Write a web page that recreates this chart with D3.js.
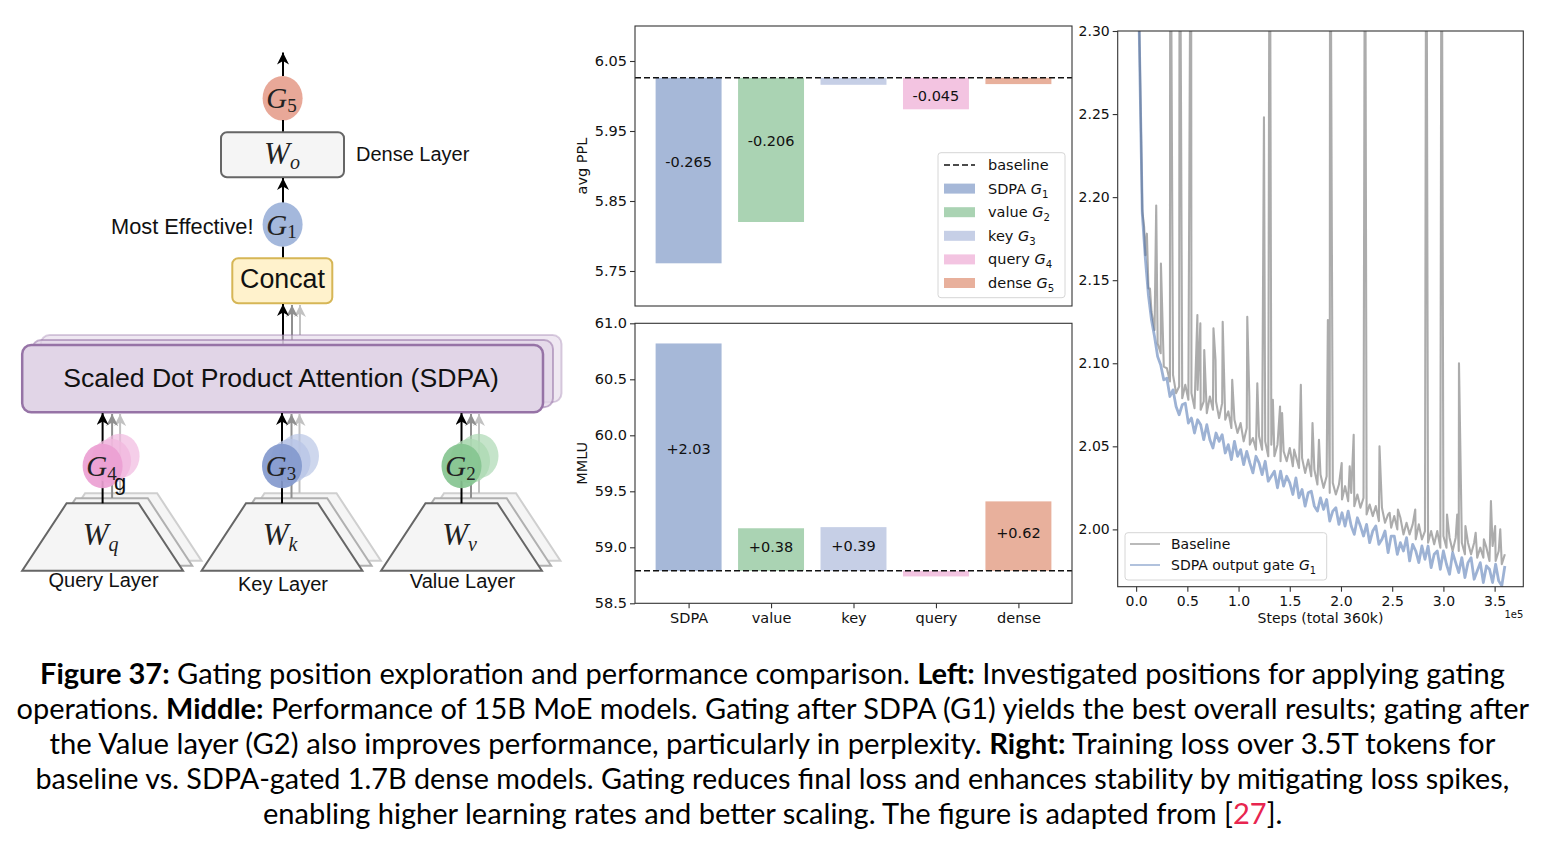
<!DOCTYPE html>
<html>
<head>
<meta charset="utf-8">
<script src="https://cdn.jsdelivr.net/npm/d3@7"></script>
<style>
  body { margin: 0; background: #fff; }
  svg { display: block; }
</style>
</head>
<body>
<svg id="fig" width="1546" height="849"></svg>
<script>
// ---- data ----
const categories = ['SDPA', 'value', 'key', 'query', 'dense'];
const gateIndex = ['1', '2', '3', '4', '5'];
const barColors = ['#a6b8d8', '#aad3b3', '#c6cfe6', '#f3c4e1', '#e8b09c'];

const pplBaseline = 6.026;
const pplDelta = [-0.265, -0.206, -0.010, -0.045, -0.009];
const pplLabels = ['-0.265', '-0.206', '', '-0.045', ''];
const pplTicks = [5.75, 5.85, 5.95, 6.05];

const mmluBaseline = 58.79;
const mmluDelta = [2.03, 0.38, 0.39, -0.05, 0.62];
const mmluLabels = ['+2.03', '+0.38', '+0.39', '', '+0.62'];
const mmluTicks = [58.5, 59.0, 59.5, 60.0, 60.5, 61.0];

const lossTicks = [2.00, 2.05, 2.10, 2.15, 2.20, 2.25, 2.30];
const stepTicks = [0, 50, 100, 150, 200, 250, 300, 350]; // thousands of steps

// training loss, [step (k), loss]
const baselineLoss = [
  [1,2.640],[3,2.305],[6,2.192],[9,2.165],[12,2.145],[15,2.131],[18,2.120],[21,2.112],[24,2.106],[27,2.098],
  [30,2.097],[33,2.089],[36,2.093],[39,2.082],[42,2.086],[45,2.079],[48,2.087],[51,2.078],[54,2.082],[57,2.073],
  [60,2.084],[63,2.072],[66,2.077],[69,2.070],[72,2.080],[75,2.072],[78,2.077],[81,2.067],[84,2.076],[87,2.066],
  [90,2.071],[93,2.061],[96,2.066],[99,2.058],[102,2.064],[105,2.053],[108,2.061],[111,2.051],[114,2.055],[117,2.048],
  [120,2.056],[123,2.048],[126,2.053],[129,2.044],[132,2.051],[135,2.044],[138,2.051],[141,2.041],[144,2.047],[147,2.041],
  [150,2.049],[153,2.038],[156,2.044],[159,2.037],[162,2.043],[165,2.034],[168,2.042],[171,2.032],[174,2.036],[177,2.027],
  [180,2.033],[183,2.025],[186,2.032],[189,2.022],[192,2.028],[195,2.021],[198,2.027],[201,2.018],[204,2.026],[207,2.017],
  [210,2.022],[213,2.014],[216,2.021],[219,2.013],[222,2.019],[225,2.009],[228,2.015],[231,2.008],[234,2.014],[237,2.005],
  [240,2.013],[243,2.004],[246,2.009],[249,2.001],[252,2.008],[255,2.000],[258,2.007],[261,1.997],[264,2.004],[267,1.997],
  [270,2.003],[273,1.994],[276,2.003],[279,1.994],[282,1.999],[285,1.992],[288,1.999],[291,1.991],[294,1.999],[297,1.989],
  [300,1.996],[303,1.989],[306,1.995],[309,1.987],[312,1.995],[315,1.987],[318,1.992],[321,1.985],[324,1.992],[327,1.985],
  [330,1.992],[333,1.983],[336,1.989],[339,1.983],[342,1.989],[345,1.981],[348,1.990],[351,1.981],[354,1.987],[357,1.979],
  [360,1.985]
];
// loss spikes of the baseline run, [step (k), peak]
const baselineSpikes = [
  [7.8,2.182],[10.5,2.178],[13.5,2.145],[19.6,2.195],[24.2,2.160],[33.3,2.45],[42.5,2.45],[44.8,2.108],
  [53.6,2.45],[59.8,2.129],[62.7,2.124],[66.5,2.108],[75.5,2.121],[77.5,2.102],[84.5,2.125],[93.8,2.090],
  [108.5,2.128],[110.5,2.080],[118.3,2.088],[124.8,2.248],[130.4,2.45],[133.5,2.078],[140.5,2.074],[142.5,2.070],
  [154.3,2.048],[160.8,2.087],[172.2,2.064],[178.5,2.054],[187.2,2.126],[189.4,2.45],[200.7,2.040],[208.5,2.038],
  [212.4,2.057],[223.5,2.45],[237.6,2.050],[247.5,2.010],[255.6,2.012],[272.5,2.012],[283.3,2.45],[298.2,2.45],
  [303.5,2.009],[313.5,2.009],[315.2,2.100],[321.5,2.002],[331.5,1.998],[339.5,1.994],[346.4,2.017],[350.5,2.002],
  [355.5,2.000]
];
const gatedLoss = [
  [1,2.620],[3,2.300],[6,2.190],[9,2.163],[12,2.141],[15,2.126],[18,2.116],[21,2.104],[24,2.099],[27,2.090],
  [30,2.091],[33,2.080],[36,2.084],[39,2.074],[42,2.069],[45,2.075],[48,2.076],[51,2.064],[54,2.067],[57,2.058],
  [60,2.066],[63,2.063],[66,2.054],[69,2.063],[72,2.054],[75,2.049],[78,2.058],[81,2.053],[84,2.057],[87,2.046],
  [90,2.051],[93,2.042],[96,2.053],[99,2.044],[102,2.048],[105,2.039],[108,2.047],[111,2.040],[114,2.034],[117,2.044],
  [120,2.040],[123,2.033],[126,2.041],[129,2.029],[132,2.032],[135,2.035],[138,2.025],[141,2.035],[144,2.026],[147,2.032],
  [150,2.028],[153,2.021],[156,2.031],[159,2.019],[162,2.024],[165,2.014],[168,2.022],[171,2.023],[174,2.014],[177,2.011],
  [180,2.019],[183,2.012],[186,2.018],[189,2.005],[192,2.011],[195,2.013],[198,2.003],[201,2.010],[204,2.002],[207,2.011],
  [210,2.002],[213,1.997],[216,2.007],[219,2.002],[222,1.996],[225,2.003],[228,1.992],[231,1.999],[234,2.002],[237,1.991],
  [240,1.994],[243,1.999],[246,1.986],[249,1.996],[252,1.996],[255,1.985],[258,1.992],[261,1.987],[264,1.995],[267,1.981],
  [270,1.991],[273,1.987],[276,1.980],[279,1.990],[282,1.982],[285,1.990],[288,1.977],[291,1.985],[294,1.987],[297,1.976],
  [300,1.987],[303,1.979],[306,1.973],[309,1.986],[312,1.980],[315,1.974],[318,1.983],[321,1.971],[324,1.980],[327,1.983],
  [330,1.970],[333,1.975],[336,1.980],[339,1.968],[342,1.978],[345,1.976],[348,1.968],[351,1.979],[354,1.969],[357,1.966],
  [360,1.978]
];

const captionLines = [
  [['Figure 37:', 'b'], [' Gating position exploration and performance comparison. ', ''], ['Left:', 'b'], [' Investigated positions for applying gating', '']],
  [['operations. ', ''], ['Middle:', 'b'], [' Performance of 15B MoE models. Gating after SDPA (G1) yields the best overall results; gating after', '']],
  [['the Value layer (G2) also improves performance, particularly in perplexity. ', ''], ['Right:', 'b'], [' Training loss over 3.5T tokens for', '']],
  [['baseline vs. SDPA-gated 1.7B dense models. Gating reduces final loss and enhances stability by mitigating loss spikes,', '']],
  [['enabling higher learning rates and better scaling. The figure is adapted from [', ''], ['27', 'r'], ['].', '']]
];

// ---- setup ----
const W = 1546, H = 849;
const svg = d3.select('#fig');
svg.append('rect').attr('width', W).attr('height', H).attr('fill', '#fff');
const defs = svg.append('defs');

const chartFont = 'DejaVu Sans, sans-serif';
const spine = '#333';

function styleAxis(g, size) {
  g.select('.domain').remove();
  g.selectAll('.tick line').attr('stroke', spine).attr('stroke-width', 1.1);
  g.selectAll('.tick text').attr('font-family', chartFont).attr('font-size', size).attr('fill', '#111');
}

function frame(g, x0, y0, x1, y1) {
  g.append('rect').attr('x', x0).attr('y', y0).attr('width', x1 - x0).attr('height', y1 - y0)
    .attr('fill', 'none').attr('stroke', spine).attr('stroke-width', 1.1);
}

function gateText(t, name, idx, size) {
  t.append('tspan').text(name + ' ');
  t.append('tspan').attr('font-style', 'italic').text('G');
  t.append('tspan').attr('font-size', size * 0.7).attr('dy', 4).text(idx);
}

// ---- middle: bar panels ----
const barLeft = 635, barRight = 1072;
const xBar = d3.scalePoint().domain(categories).range([barLeft, barRight]).padding(0.65);
const barW = xBar.step() * 0.8;

function barPanel(top, bottom, domain, ticks, base, deltas, labels, yTitle, showX) {
  const g = svg.append('g');
  const y = d3.scaleLinear().domain(domain).range([bottom, top]);

  g.selectAll('rect.bar').data(categories).join('rect')
    .attr('class', 'bar')
    .attr('x', d => xBar(d) - barW / 2)
    .attr('y', (d, i) => Math.min(y(base), y(base + deltas[i])))
    .attr('width', barW)
    .attr('height', (d, i) => Math.abs(y(base) - y(base + deltas[i])))
    .attr('fill', (d, i) => barColors[i]);

  g.append('line')
    .attr('x1', barLeft).attr('x2', barRight)
    .attr('y1', y(base)).attr('y2', y(base))
    .attr('stroke', '#111').attr('stroke-width', 1.6).attr('stroke-dasharray', '6,3');

  g.selectAll('text.val').data(categories).join('text')
    .attr('class', 'val')
    .attr('x', d => xBar(d))
    .attr('y', (d, i) => {
      const y0 = y(base), y1 = y(base + deltas[i]);
      const h = Math.abs(y1 - y0);
      const off = h > 100 ? -8.5 : (deltas[i] < 0 ? 2 : -3);
      return (y0 + y1) / 2 + off + 5;
    })
    .attr('text-anchor', 'middle')
    .attr('font-family', chartFont).attr('font-size', 14.5).attr('fill', '#111')
    .text((d, i) => labels[i]);

  const ya = g.append('g').attr('transform', `translate(${barLeft},0)`)
    .call(d3.axisLeft(y).tickValues(ticks).tickFormat(d3.format(ticks[0] > 10 ? '.1f' : '.2f'))
      .tickSize(5).tickPadding(3).tickSizeOuter(0));
  styleAxis(ya, 14.5);

  if (showX) {
    const xa = g.append('g').attr('transform', `translate(0,${bottom})`)
      .call(d3.axisBottom(xBar).tickSize(5).tickPadding(4.4).tickSizeOuter(0));
    styleAxis(xa, 14.5);
  }

  g.append('text')
    .attr('transform', `translate(586.5,${(top + bottom) / 2}) rotate(-90)`)
    .attr('text-anchor', 'middle')
    .attr('font-family', chartFont).attr('font-size', 14.5).attr('fill', '#111')
    .text(yTitle);

  frame(g, barLeft, top, barRight, bottom);
  return g;
}

const topPanel = barPanel(26, 306, [5.70, 6.10], pplTicks, pplBaseline, pplDelta, pplLabels, 'avg PPL', false);
barPanel(323.3, 603.3, [58.5, 61.0], mmluTicks, mmluBaseline, mmluDelta, mmluLabels, 'MMLU', true);

// legend of the top panel
{
  const lg = topPanel.append('g');
  lg.append('rect').attr('x', 938).attr('y', 152.7).attr('width', 127).attr('height', 145)
    .attr('rx', 3).attr('fill', '#fff').attr('fill-opacity', 0.85).attr('stroke', '#d6d6d6');
  const rowY = i => 165 + i * 23.6;
  lg.append('line').attr('x1', 944).attr('x2', 975).attr('y1', rowY(0)).attr('y2', rowY(0))
    .attr('stroke', '#111').attr('stroke-width', 1.6).attr('stroke-dasharray', '6,3');
  lg.append('text').attr('x', 988).attr('y', rowY(0) + 5)
    .attr('font-family', chartFont).attr('font-size', 14.5).attr('fill', '#111').text('baseline');
  categories.forEach((c, i) => {
    lg.append('rect').attr('x', 944).attr('y', rowY(i + 1) - 5).attr('width', 31).attr('height', 10)
      .attr('fill', barColors[i]);
    const t = lg.append('text').attr('x', 988).attr('y', rowY(i + 1) + 5)
      .attr('font-family', chartFont).attr('font-size', 14.5).attr('fill', '#111');
    gateText(t, c, gateIndex[i], 14.5);
  });
}

// ---- right: training loss ----
{
  const L = 1117.7, R = 1523.3, T = 31, B = 586.7;
  const x = d3.scaleLinear().domain([-18, 378]).range([L, R]);
  const y = d3.scaleLinear().domain([1.9655, 2.30]).range([B, T]);
  const g = svg.append('g');

  defs.append('clipPath').attr('id', 'lossClip')
    .append('rect').attr('x', L).attr('y', T).attr('width', R - L).attr('height', B - T);

  const line = d3.line().x(d => x(d[0])).y(d => y(d[1]));
  const baseSeries = baselineLoss.concat(baselineSpikes).sort((a, b) => a[0] - b[0]);

  const lines = g.append('g').attr('clip-path', 'url(#lossClip)');
  lines.append('path').datum(baseSeries).attr('d', line)
    .attr('fill', 'none').attr('stroke', '#8c8c8c').attr('stroke-opacity', 0.72)
    .attr('stroke-width', 2.1).attr('stroke-linejoin', 'round');
  lines.append('path').datum(gatedLoss).attr('d', line)
    .attr('fill', 'none').attr('stroke', '#4c72b0').attr('stroke-opacity', 0.55)
    .attr('stroke-width', 2.8).attr('stroke-linejoin', 'round');

  const ya = g.append('g').attr('transform', `translate(${L},0)`)
    .call(d3.axisLeft(y).tickValues(lossTicks).tickFormat(d3.format('.2f'))
      .tickSize(5).tickPadding(3).tickSizeOuter(0));
  styleAxis(ya, 14);

  const xa = g.append('g').attr('transform', `translate(0,${B})`)
    .call(d3.axisBottom(x).tickValues(stepTicks).tickFormat(d => (d / 100).toFixed(1))
      .tickSize(5).tickPadding(4.3).tickSizeOuter(0));
  styleAxis(xa, 14);

  g.append('text').attr('x', (L + R) / 2).attr('y', 623.3).attr('text-anchor', 'middle')
    .attr('font-family', chartFont).attr('font-size', 14).attr('fill', '#111')
    .text('Steps (total 360k)');
  g.append('text').attr('x', R).attr('y', 618.3).attr('text-anchor', 'end')
    .attr('font-family', chartFont).attr('font-size', 10).attr('fill', '#111').text('1e5');

  frame(g, L, T, R, B);

  // legend
  const lg = g.append('g');
  lg.append('rect').attr('x', 1125).attr('y', 532.7).attr('width', 201.7).attr('height', 47.3)
    .attr('rx', 3).attr('fill', '#fff').attr('fill-opacity', 0.85).attr('stroke', '#d6d6d6');
  const items = [['Baseline', '#8c8c8c', 0.75], ['SDPA output gate', '#4c72b0', 0.55]];
  items.forEach((it, i) => {
    const yy = 544 + i * 21;
    lg.append('line').attr('x1', 1130).attr('x2', 1160).attr('y1', yy).attr('y2', yy)
      .attr('stroke', it[1]).attr('stroke-opacity', it[2]).attr('stroke-width', 1.6);
    const t = lg.append('text').attr('x', 1171).attr('y', yy + 5)
      .attr('font-family', chartFont).attr('font-size', 14).attr('fill', '#111');
    if (i === 0) t.text(it[0]);
    else gateText(t, it[0], '1', 14);
  });
}

// ---- left: gating position diagram ----
const dg = svg.append('g').attr('font-family', 'Liberation Sans, Arial, sans-serif');
const mathFont = 'Liberation Serif, DejaVu Serif, serif';

function marker(id, color) {
  defs.append('marker').attr('id', id).attr('viewBox', '0 0 10 10')
    .attr('refX', 10).attr('refY', 5).attr('markerUnits', 'userSpaceOnUse')
    .attr('markerWidth', 12).attr('markerHeight', 12).attr('orient', 'auto')
    .append('path').attr('d', 'M0,0 L10,5 L0,10 L3,5 Z').attr('fill', color);
}
marker('arK', '#000');
marker('arG1', '#8f8f8f');
marker('arG2', '#c2c2c2');

function vline(x, y1, y2, color, mk) {
  const p = dg.append('path').attr('d', `M${x},${y1}L${x},${y2}`)
    .attr('stroke', color).attr('stroke-width', 2).attr('fill', 'none');
  if (mk) p.attr('marker-end', `url(#${mk})`);
}

function mathLabel(x, y, main, sub, size, subSize, subDy) {
  const t = dg.append('text').attr('x', x).attr('y', y).attr('text-anchor', 'middle')
    .attr('font-family', mathFont).attr('font-style', 'italic').attr('font-size', size).attr('fill', '#222');
  t.append('tspan').text(main);
  t.append('tspan').attr('font-size', subSize).attr('dy', subDy)
    .attr('font-style', sub.match(/[0-9]/) ? 'normal' : 'italic').text(sub);
}

function gate(cx, cy, color, idx) {
  dg.append('ellipse').attr('cx', cx).attr('cy', cy).attr('rx', 20).attr('ry', 22.3).attr('fill', color);
  mathLabel(cx - 1, cy + 10, 'G', idx, 29, 19, 3.5);
}

// top of the stack
vline(283, 76, 52.5, '#000', 'arK');
gate(282.6, 98.3, '#e8a898', '5');
vline(283, 120, 132.3, '#000');
dg.append('rect').attr('x', 221).attr('y', 132.3).attr('width', 123).attr('height', 45)
  .attr('rx', 6).attr('fill', '#f5f5f5').attr('stroke', '#666').attr('stroke-width', 2);
mathLabel(282, 164, 'W', 'o', 31, 20, 5);
dg.append('text').attr('x', 356).attr('y', 160.7).attr('font-size', 20).attr('fill', '#111').text('Dense Layer');

vline(283, 203, 178, '#000', 'arK');
gate(282.6, 224.5, '#a4b8dc', '1');
dg.append('text').attr('x', 111).attr('y', 234.3).attr('font-size', 21.8).attr('fill', '#111').text('Most Effective!');
vline(283, 246.7, 258.3, '#000');
dg.append('rect').attr('x', 232.3).attr('y', 258.3).attr('width', 100).attr('height', 45)
  .attr('rx', 6).attr('fill', '#fff2cc').attr('stroke', '#d6b656').attr('stroke-width', 2);
dg.append('text').attr('x', 282.5).attr('y', 288.3).attr('text-anchor', 'middle')
  .attr('font-size', 26.8).attr('fill', '#111').text('Concat');

// heads -> concat
vline(300, 335, 305, '#c2c2c2', 'arG2');
vline(292, 340, 305, '#8f8f8f', 'arG1');
vline(283, 345, 304, '#000', 'arK');

// SDPA stack
[[18.5, -10, 0.35], [10, -5, 0.55]].forEach(([dx, dy, op]) => {
  dg.append('rect').attr('x', 22.2 + dx).attr('y', 345 + dy).attr('width', 520.8).attr('height', 67.3)
    .attr('rx', 9).attr('fill', '#e1d5e7').attr('fill-opacity', op + 0.2)
    .attr('stroke', '#9673a6').attr('stroke-opacity', op).attr('stroke-width', 2);
});
dg.append('rect').attr('x', 22.2).attr('y', 345).attr('width', 520.8).attr('height', 67.3)
  .attr('rx', 9).attr('fill', '#e1d5e7').attr('stroke', '#9673a6').attr('stroke-width', 2.5);
dg.append('text').attr('x', 281).attr('y', 386.7).attr('text-anchor', 'middle')
  .attr('font-size', 26.6).attr('fill', '#111').text('Scaled Dot Product Attention (SDPA)');

// query / key / value branches
const heads = [
  { cx: 102.6, w: 'q', g: '4', label: 'Query Layer', ly: 587, color: '#ec9fd2', back: '#f1b9df' },
  { cx: 282, w: 'k', g: '3', label: 'Key Layer', ly: 590.5, color: '#8399cd', back: '#b9c6e6' },
  { cx: 461.5, w: 'v', g: '2', label: 'Value Layer', ly: 587.5, color: '#86c490', back: '#acd9b3' }
];
function trap(cx, dx, dy) {
  const yb = 570.7 + dy, yt = 503.3 + dy;
  return `M${cx - 80.4 + dx},${yb}L${cx + 80.4 + dx},${yb}L${cx + 36 + dx},${yt}L${cx - 36 + dx},${yt}Z`;
}
heads.forEach(h => {
  [[18.5, -10, '#cfcfcf'], [9.2, -5, '#b0b0b0']].forEach(([dx, dy, st]) => {
    dg.append('path').attr('d', trap(h.cx, dx, dy)).attr('fill', '#f5f5f5')
      .attr('stroke', st).attr('stroke-width', 2);
  });
  dg.append('path').attr('d', trap(h.cx, 0, 0)).attr('fill', '#f5f5f5')
    .attr('stroke', '#666').attr('stroke-width', 2);
  mathLabel(h.cx - 2, 545, 'W', h.w, 31, 20, 6);
  dg.append('text').attr('x', h.cx + 1).attr('y', h.ly).attr('text-anchor', 'middle')
    .attr('font-size', 20).attr('fill', '#111').text(h.label);

  vline(h.cx + 17.5, 493, 414, '#c2c2c2', 'arG2');
  vline(h.cx + 9.5, 498, 414, '#8f8f8f', 'arG1');
  vline(h.cx, 503.3, 413, '#000', 'arK');

  dg.append('ellipse').attr('cx', h.cx + 17).attr('cy', 456).attr('rx', 20).attr('ry', 22.3)
    .attr('fill', h.back).attr('fill-opacity', 0.7);
  dg.append('ellipse').attr('cx', h.cx + 8.5).attr('cy', 461).attr('rx', 20).attr('ry', 22.3)
    .attr('fill', h.back).attr('fill-opacity', 0.8);
  dg.append('ellipse').attr('cx', h.cx).attr('cy', 466).attr('rx', 20).attr('ry', 22.3)
    .attr('fill', h.color).attr('fill-opacity', 0.92);
  mathLabel(h.cx - 1, 476, 'G', h.g, 29, 19, 3.5);
});
dg.append('text').attr('x', 114).attr('y', 490).attr('font-size', 22).attr('fill', '#111').text('g');

// ---- caption ----
const captionWidths = [1466, 1513, 1447, 1475, 1020];
const captionBaselines = [683.5, 718.8, 754, 788.8, 823.5];
captionLines.forEach((parts, i) => {
  const t = svg.append('text').attr('font-family', 'Lato, sans-serif').attr('font-size', 28)
    .style('white-space', 'pre');
  parts.forEach(([s, k]) => {
    t.append('tspan').text(s)
      .attr('font-weight', k === 'b' ? 700 : 400)
      .attr('fill', k === 'r' ? '#e8254f' : '#000');
  });
  const w = t.node().getComputedTextLength();
  t.attr('transform', `translate(${773 - captionWidths[i] / 2},${captionBaselines[i]}) scale(${captionWidths[i] / w},1)`);
});
</script>
</body>
</html>
